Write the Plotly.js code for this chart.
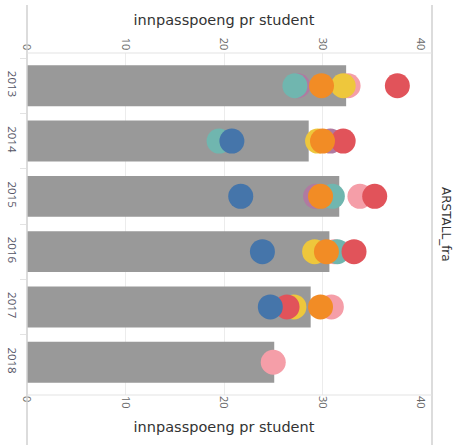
<!DOCTYPE html>
<html>
<head>
<meta charset="utf-8">
<script src="https://cdn.plot.ly/plotly-3.0.1.min.js"></script>
<style>html,body{margin:0;padding:0;background:#fff;}#chart{width:459px;height:445px;}</style>
</head>
<body>
<div id="chart"></div>
<script>
// ---- data ----
const years = ['2013', '2014', '2015', '2016', '2017', '2018'];
const barValues = [32.4, 28.6, 31.7, 30.7, 28.8, 25.1];
const pinkValues   = [32.6, null, 33.8, 31.2, 30.9, 25.0];
const purpleValues = [27.5, 30.8, 29.3, null, null, null];
const tealValues   = [27.2, 19.5, 31.0, 31.5, 26.7, null];
const yellowValues = [32.1, 29.5, null, 29.2, 27.1, null];
const redValues    = [37.6, 32.1, 35.3, 33.2, 26.4, null];
const blueValues   = [null, 20.8, 21.7, 23.9, 24.7, null];
const orangeValues = [29.9, 30.0, 29.8, 30.4, 29.8, null];
const xTicks = [0, 10, 20, 30, 40];
const xTitle = 'innpasspoeng pr student';
const rowTitle = 'ARSTALL_fra';

const series = [
  {name: 'pink', values: pinkValues, color: '#f59ea8'},
  {name: 'purple', values: purpleValues, color: '#b07aa1'},
  {name: 'teal', values: tealValues, color: '#70b6af'},
  {name: 'yellow', values: yellowValues, color: '#eec73c'},
  {name: 'red', values: redValues, color: '#e1535a'},
  {name: 'blue', values: blueValues, color: '#4575aa'},
  {name: 'orange', values: orangeValues, color: '#f28c25'}
];

const traces = [{
  type: 'bar', orientation: 'h', y: years, x: barValues,
  xaxis: 'x', yaxis: 'y',
  marker: {color: '#999999'}, showlegend: false
}];
series.forEach(s => {
  traces.push({
    type: 'scatter', mode: 'markers', name: s.name,
    y: years, x: s.values, xaxis: 'x2', yaxis: 'y',
    marker: {size: 25, color: s.color, opacity: 1, line: {width: 0}},
    showlegend: false
  });
});

const titleFont = {family: '"DejaVu Sans", sans-serif', size: 14.5, color: '#333'};
const axisCommon = {
  range: [0, 40], tickvals: xTicks, ticktext: xTicks.map(String),
  tickangle: 90, showgrid: true, gridcolor: '#ececec', gridwidth: 1,
  zeroline: false, showline: false, ticks: '',
  tickfont: {family: '"Open Sans", sans-serif', size: 11, color: '#666'},
  fixedrange: true
};
const paperTop = (395 - 5) / 342, paperBottom = -50 / 342, paperRight = (432 - 27) / 394;

const layout = {
  width: 459, height: 445,
  margin: {l: 27, r: 38, t: 53, b: 50, pad: 0},
  paper_bgcolor: '#fff', plot_bgcolor: '#fff',
  font: {family: '"Open Sans", "DejaVu Sans", sans-serif', color: '#555', size: 11},
  bargap: 0.26,
  showlegend: false,
  xaxis: Object.assign({}, axisCommon, {
    side: 'bottom',
    title: {text: xTitle, font: titleFont, standoff: 14}
  }),
  xaxis2: Object.assign({}, axisCommon, {
    side: 'top', overlaying: 'x', matches: 'x', anchor: 'y',
    title: {text: xTitle, font: titleFont, standoff: 8}
  }),
  yaxis: {
    type: 'category', categoryorder: 'array', categoryarray: years,
    autorange: 'reversed', tickangle: 90, showgrid: false, zeroline: false,
    ticks: 'outside', tickson: 'boundaries', ticklen: 6, tickcolor: '#e3e3e3',
    ticklabelstandoff: 6,
    tickfont: {family: '"Open Sans", sans-serif', size: 11.5, color: '#556'},
    showline: false, fixedrange: true
  },
  shapes: [
    {type: 'line', xref: 'paper', yref: 'paper', x0: 0, x1: 0, y0: paperBottom, y1: paperTop, line: {color: '#d0d0d0', width: 1.5}},
    {type: 'line', xref: 'paper', yref: 'paper', x0: paperRight, x1: paperRight, y0: paperBottom, y1: paperTop, line: {color: '#d0d0d0', width: 1.5}},
    {type: 'line', xref: 'paper', yref: 'paper', x0: 0, x1: paperRight, y0: 1, y1: 1, line: {color: '#e3e3e3', width: 1}},
    {type: 'line', xref: 'paper', yref: 'paper', x0: 0, x1: paperRight, y0: 0, y1: 0, line: {color: '#e3e3e3', width: 1}}
  ],
  annotations: [{
    text: rowTitle, xref: 'paper', yref: 'paper', x: (446 - 27) / 394, y: 0.5,
    xanchor: 'center', yanchor: 'middle', showarrow: false, textangle: 90,
    font: {family: '"DejaVu Sans", sans-serif', size: 12, color: '#333'}
  }]
};

Plotly.newPlot('chart', traces, layout, {displayModeBar: false, staticPlot: true});
</script>
</body>
</html>
